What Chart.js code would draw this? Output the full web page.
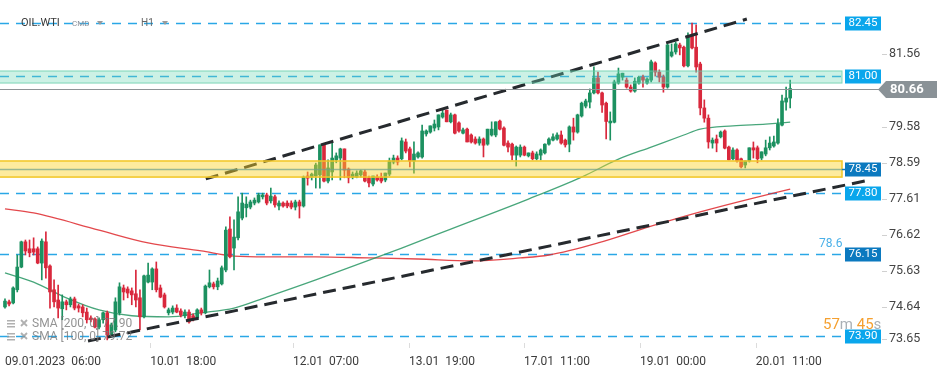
<!DOCTYPE html>
<html>
<head>
<meta charset="utf-8">
<script src="https://cdn.jsdelivr.net/npm/chart.js@4.4.1/dist/chart.umd.min.js"></script>
<style>
  html, body { margin: 0; padding: 0; background: #fff; }
  #wrap { width: 949px; height: 370px; }
</style>
</head>
<body>
<div id="wrap"><canvas id="chart" width="949" height="370"></canvas></div>
<script>
// OIL.WTI H1 candles (one entry per hour bar)
const opens = [74.69,74.83,74.80,75.16,75.78,76.47,76.28,76.28,76.28,75.89,
  76.47,75.81,75.16,74.88,74.64,74.83,74.75,74.91,74.72,74.69,
  74.55,74.39,74.36,74.14,74.34,74.53,73.93,74.06,74.53,75.21,
  75.18,75.13,75.05,74.94,74.42,75.37,75.37,75.73,75.21,75.02,
  74.53,74.55,74.66,74.58,74.45,74.55,74.45,74.39,74.61,74.53,
  75.24,75.32,75.24,75.32,75.70,76.82,76.30,76.58,77.12,77.40,
  77.42,77.53,77.56,77.70,77.75,77.59,77.70,77.45,77.53,77.53,
  77.53,77.42,77.56,77.45,78.27,78.24,78.27,78.30,79.12,78.13,
  78.38,78.71,78.76,79.01,78.46,78.24,78.24,78.30,78.38,78.22,
  78.05,78.24,78.24,78.16,78.32,78.65,78.76,78.74,79.20,79.01,
  78.68,78.79,78.79,79.42,79.47,79.58,79.61,79.88,80.07,79.75,
  79.94,79.72,79.44,79.55,79.39,79.28,79.17,79.28,79.14,79.39,
  79.39,79.77,79.58,79.17,79.14,78.84,78.84,79.06,78.82,78.90,
  78.74,78.84,78.90,79.14,79.25,79.28,79.39,79.25,79.14,79.61,
  79.47,79.91,80.18,80.29,80.54,80.95,80.54,80.26,79.72,79.74,
  80.81,80.97,80.89,80.70,80.59,80.81,80.97,80.81,80.89,81.36,
  81.11,80.97,80.70,81.55,81.66,81.85,81.79,81.28,82.10,81.79,
  81.33,80.13,79.85,79.17,79.28,79.34,79.50,79.06,78.74,78.98,
  78.74,78.57,78.68,79.04,79.04,78.76,78.87,79.04,79.09,79.17,
  79.66,80.29,80.40];
const highs = [74.91,74.88,75.24,76.11,76.49,76.52,76.52,76.58,76.33,76.55,
  76.74,75.84,75.43,75.29,75.02,74.88,74.96,74.96,74.77,74.75,
  74.66,74.45,74.39,74.39,74.55,74.58,74.25,74.94,75.35,75.29,
  75.24,75.21,75.70,75.16,75.56,75.89,75.76,75.92,75.29,75.07,
  74.66,74.72,74.75,74.64,74.61,74.61,74.50,74.64,74.66,75.29,
  75.70,75.37,75.48,75.81,76.88,77.15,77.07,77.70,77.80,77.70,
  77.61,77.67,77.80,77.80,77.80,77.94,77.75,77.59,77.56,77.59,
  77.59,77.61,77.61,78.27,78.38,78.35,78.62,79.12,79.12,78.71,
  79.20,78.90,79.03,79.01,78.49,78.38,78.41,78.43,78.43,78.27,
  78.27,78.30,78.35,78.35,78.76,78.84,78.82,79.31,79.28,79.06,
  79.20,78.93,79.66,79.53,79.64,79.80,79.94,80.07,80.07,79.99,
  79.96,79.75,79.58,79.58,79.42,79.34,79.34,79.31,79.55,79.75,
  79.75,79.80,79.61,79.23,79.17,79.09,79.12,79.09,78.90,78.95,
  78.93,79.01,79.15,79.31,79.42,79.45,79.50,79.28,79.64,79.85,
  79.96,80.29,80.37,80.65,81.25,81.11,80.56,80.29,80.02,80.89,
  81.22,81.08,80.95,80.76,80.95,81.00,81.03,80.95,81.44,81.39,
  81.17,81.03,81.88,81.88,81.93,81.90,81.82,82.18,82.45,82.40,
  81.38,80.35,79.94,79.31,79.39,79.50,79.53,79.09,79.04,79.01,
  78.76,78.68,79.04,79.20,79.09,78.93,79.25,79.34,79.36,79.83,
  80.48,80.70,80.89];
const lows = [74.66,74.72,74.77,75.10,75.76,76.11,76.06,76.11,75.87,75.43,
  75.48,74.66,74.69,74.39,74.34,74.61,74.69,74.61,74.55,74.42,
  74.25,74.28,74.12,74.09,74.25,73.79,73.87,74.01,74.47,74.88,
  74.94,74.75,74.69,74.06,74.39,75.35,75.16,75.10,74.94,74.66,
  74.47,74.50,74.53,74.42,74.39,74.25,74.31,74.34,74.47,74.50,
  75.21,75.18,75.16,75.29,75.65,76.03,75.70,76.52,77.07,77.15,
  77.37,77.48,77.53,77.64,77.48,77.53,77.42,77.34,77.42,77.40,
  77.37,77.34,77.12,77.42,78.02,78.16,77.94,77.94,78.11,78.08,
  78.16,78.63,78.16,78.22,78.08,78.19,78.22,78.24,78.11,77.97,
  78.00,78.13,78.08,78.11,78.27,78.60,78.57,78.71,78.90,78.52,
  78.35,78.76,78.76,79.36,79.44,79.50,79.53,79.85,79.75,79.72,
  79.42,79.47,79.42,79.20,79.17,79.14,79.11,78.79,79.11,79.36,
  79.34,79.53,79.09,78.93,78.71,78.54,78.79,78.82,78.79,78.71,
  78.71,78.71,78.87,79.11,79.23,79.25,79.14,79.06,78.93,79.25,
  79.44,79.88,80.13,80.13,80.51,80.51,80.01,79.28,79.25,79.72,
  80.78,80.89,80.67,80.56,80.56,80.78,80.70,80.78,80.84,81.00,
  80.84,80.56,80.67,81.52,81.60,81.58,81.25,81.25,81.74,81.11,
  79.94,79.74,79.03,79.03,78.93,79.31,79.01,78.71,78.71,78.65,
  78.49,78.49,78.65,78.76,78.63,78.71,78.82,78.98,79.06,79.14,
  79.64,80.07,80.13];
const closes = [74.85,74.77,75.21,75.78,76.47,76.22,76.17,76.19,75.89,76.49,
  75.76,75.10,74.83,74.66,74.83,74.75,74.91,74.66,74.66,74.53,
  74.34,74.34,74.14,74.34,74.53,73.93,74.20,74.83,75.24,75.10,
  75.07,75.02,74.88,74.42,75.54,75.56,75.73,75.16,74.96,74.69,
  74.61,74.66,74.55,74.47,74.55,74.28,74.34,74.61,74.53,75.26,
  75.35,75.24,75.40,75.76,76.79,76.06,76.60,77.29,77.53,77.50,
  77.56,77.61,77.75,77.75,77.53,77.72,77.48,77.53,77.45,77.45,
  77.42,77.56,77.45,78.24,78.21,78.32,78.57,79.12,78.13,78.49,
  78.76,78.82,79.01,78.43,78.22,78.32,78.35,78.41,78.13,78.08,
  78.27,78.16,78.13,78.35,78.68,78.76,78.65,79.23,78.95,78.68,
  78.87,78.90,79.50,79.50,79.64,79.69,79.94,79.99,79.75,79.94,
  79.44,79.50,79.53,79.20,79.20,79.17,79.28,79.11,79.55,79.55,
  79.75,79.55,79.11,79.06,78.84,79.06,79.06,78.84,78.90,78.74,
  78.87,78.98,79.14,79.28,79.34,79.39,79.17,79.12,79.61,79.47,
  79.94,80.26,80.32,80.54,80.95,80.54,80.21,79.76,79.77,80.84,
  81.06,81.08,80.70,80.59,80.86,80.97,80.89,80.92,81.39,81.11,
  80.97,80.70,81.85,81.66,81.88,81.77,81.28,82.10,81.77,81.25,
  80.13,79.85,79.20,79.25,79.17,79.47,79.03,78.71,78.98,78.68,
  78.52,78.68,79.04,78.98,78.74,78.93,79.04,79.17,79.20,79.69,
  80.32,80.40,80.66];

// moving averages, sampled at bar indices
const sma200Idx = [0, 7, 23, 35, 48, 56, 64, 76, 89, 101, 114, 126, 133, 145, 158, 170, 182, 192];
const sma200Val = [77.37, 77.26, 76.79, 76.44, 76.22, 76.08, 76.06, 76.06, 76.03, 76.00, 75.95, 76.03, 76.11, 76.44, 76.90, 77.29, 77.64, 77.91];
const sma100Idx = [0, 7, 15, 23, 31, 40, 48, 56, 64, 76, 97, 109, 128, 141, 150, 158, 166, 170, 178, 186, 192];
const sma100Val = [75.62, 75.37, 74.94, 74.61, 74.45, 74.42, 74.53, 74.66, 74.96, 75.43, 76.30, 76.82, 77.64, 78.24, 78.73, 79.06, 79.39, 79.55, 79.64, 79.69, 79.74];

// channel lines (bar index, price)
const upperTrendIdx = [49.1, 181.4];
const upperTrendVal = [78.19, 82.56];
const lowerTrendIdx = [20.3, 211.5];
const lowerTrendVal = [73.76, 78.16];

// horizontal levels and zones
const levelValues = [82.45, 81.00, 78.45, 77.80, 76.15, 73.90];
const zoneTeal = [80.81, 81.14];
const zoneYellow = [78.24, 78.68];
const lastPrice = 80.66;

// axis ticks
const yTicks = [81.56, 79.58, 78.59, 77.61, 76.62, 75.63, 74.64, 73.65];
const xTickIdx = [0, 35.5, 70.4, 98.8, 126.9, 155.3, 183.6];
const xTickLabels = ['09.01.2023  06:00', '10.01  18:00', '12.01  07:00', '13.01  19:00', '17.01  11:00', '19.01  00:00', '20.01  11:00'];

const GREEN = '#1c9160';
const RED = '#d9283c';
const LEVEL_BLUE = '#2aa7e6';
const levelBoxColor = {'82.45': '#0aa6ec', '81': '#0aa6ec', '78.45': '#0b79bf', '77.8': '#0aa6ec', '76.15': '#0b79bf', '73.9': '#0aa6ec'};
const FONT = 'Roboto, "Open Sans", sans-serif';

const candleColor = ctx => closes[ctx.dataIndex] >= opens[ctx.dataIndex] ? GREEN : RED;

const overlay = {
  id: 'overlay',
  beforeDatasetsDraw(chart) {
    const {ctx, chartArea: a, scales: {y}} = chart;
    ctx.save();
    ctx.setLineDash([9, 7]);
    ctx.lineWidth = 1.5;
    ctx.strokeStyle = LEVEL_BLUE;
    levelValues.forEach(v => {
      if (v === 78.45) return;
      const py = Math.round(y.getPixelForValue(v)) + 0.5;
      ctx.beginPath(); ctx.moveTo(a.left, py); ctx.lineTo(a.right, py); ctx.stroke();
    });
    ctx.restore();
  },
  afterDatasetsDraw(chart) {
    const {ctx, chartArea: a, scales: {y}} = chart;
    ctx.save();
    // zones
    const band = (z, fill, stroke, w) => {
      const t = y.getPixelForValue(z[1]), b = y.getPixelForValue(z[0]);
      ctx.fillStyle = fill;
      ctx.fillRect(a.left, t, 842 - a.left, b - t);
      ctx.strokeStyle = stroke; ctx.lineWidth = w;
      ctx.strokeRect(a.left - 2, t, 844 - a.left, b - t);
    };
    band(zoneTeal, 'rgba(110,215,180,0.35)', 'rgba(100,205,170,0.8)', 1);
    band(zoneYellow, 'rgba(250,210,40,0.45)', '#f2c624', 1.5);
    const my = Math.round(y.getPixelForValue(78.45)) + 0.5;
    ctx.strokeStyle = 'rgba(110,160,140,0.7)'; ctx.lineWidth = 1.5;
    ctx.beginPath(); ctx.moveTo(a.left, my); ctx.lineTo(842, my); ctx.stroke();
    ctx.strokeStyle = '#0b79bf'; ctx.lineWidth = 1.5;
    ctx.beginPath(); ctx.moveTo(842, my); ctx.lineTo(846, my); ctx.stroke();
    // last price line
    const lp = Math.round(y.getPixelForValue(lastPrice)) + 0.5;
    ctx.strokeStyle = '#8e9396'; ctx.lineWidth = 1;
    ctx.beginPath(); ctx.moveTo(a.left, lp); ctx.lineTo(880, lp); ctx.stroke();
    ctx.restore();
  },
  afterDraw(chart) {
    const {ctx, chartArea: a, scales: {x, y}} = chart;
    ctx.save();
    ctx.textBaseline = 'middle';
    // y tick labels
    ctx.font = '12.5px ' + FONT;
    ctx.fillStyle = '#444';
    yTicks.forEach(v => {
      const py = Math.min(y.getPixelForValue(v) - 1.5, 339);
      ctx.strokeStyle = '#d0d0d0'; ctx.lineWidth = 1;
      ctx.beginPath(); ctx.moveTo(882, Math.round(py) + 0.5); ctx.lineTo(887, Math.round(py) + 0.5); ctx.stroke();
      ctx.textAlign = 'left';
      ctx.fillText(v.toFixed(2), 889, py);
    });
    // x tick marks
    ctx.strokeStyle = '#dcdcdc';
    xTickIdx.forEach((v, i) => {
      if (i === 0) return;
      const px = Math.round(x.getPixelForValue(v)) + 0.5;
      ctx.beginPath(); ctx.moveTo(px, a.bottom - 2); ctx.lineTo(px, a.bottom + 3); ctx.stroke();
    });
    // level tags
    ctx.font = '11.5px ' + FONT;
    ctx.textAlign = 'center';
    levelValues.forEach(v => {
      const py = y.getPixelForValue(v);
      ctx.fillStyle = levelBoxColor[String(v)];
      ctx.fillRect(845, Math.round(py) - 6.5, 36, 14);
      ctx.fillStyle = '#fff';
      ctx.fillText(v.toFixed(2), 863, Math.round(py) + 0.5);
    });
    // last price tag
    const lp = Math.round(y.getPixelForValue(lastPrice)) + 0.5;
    ctx.fillStyle = '#8a9297';
    ctx.beginPath();
    ctx.moveTo(878, lp); ctx.lineTo(886, lp - 8.5); ctx.lineTo(937, lp - 8.5);
    ctx.lineTo(937, lp + 8.5); ctx.lineTo(886, lp + 8.5); ctx.closePath(); ctx.fill();
    ctx.fillStyle = '#fff';
    ctx.font = 'bold 13px ' + FONT;
    ctx.textAlign = 'left';
    ctx.fillText(lastPrice.toFixed(2), 890, lp + 0.5);
    // 78.6 note
    ctx.font = '12px ' + FONT;
    ctx.fillStyle = '#4ab0e8';
    ctx.fillText('78.6', 819, 244);
    // countdown
    ctx.font = '15px ' + FONT;
    let tx = 823;
    [['57', '#f5a030'], ['m', '#aab0b6'], [' 45', '#f5a030'], ['s', '#aab0b6']].forEach(([t, c]) => {
      ctx.fillStyle = c; ctx.fillText(t, tx, 325); tx += ctx.measureText(t).width;
    });
    // header
    ctx.fillStyle = '#3a3a3a';
    ctx.font = '11px ' + FONT;
    ctx.fillText('OIL.WTI', 21, 23);
    ctx.fillStyle = '#8a8f99';
    ctx.font = '8px ' + FONT;
    ctx.fillText('CMD', 72, 24);
    ctx.font = '10px ' + FONT;
    ctx.fillStyle = '#666';
    ctx.fillText('H1', 141, 23);
    ctx.fillStyle = '#9a9a9a';
    [97, 162].forEach(px => {
      ctx.beginPath(); ctx.moveTo(px, 21); ctx.lineTo(px + 6, 21); ctx.lineTo(px + 3, 25); ctx.closePath(); ctx.fill();
    });
    // SMA legend
    [['SMA [200, 0] 77.90', 324], ['SMA [100, 0] 79.72', 337]].forEach(([t, py]) => {
      ctx.fillStyle = 'rgba(150,150,150,0.75)';
      ctx.fillRect(7, py - 4, 8, 1.5); ctx.fillRect(7, py - 1, 8, 1.5); ctx.fillRect(7, py + 2, 8, 1.5);
      ctx.strokeStyle = 'rgba(150,150,150,0.75)'; ctx.lineWidth = 1.8;
      ctx.beginPath(); ctx.moveTo(21, py - 4); ctx.lineTo(27, py + 2); ctx.moveTo(27, py - 4); ctx.lineTo(21, py + 2); ctx.stroke();
      ctx.fillStyle = 'rgba(120,120,120,0.8)';
      ctx.font = '12px ' + FONT;
      ctx.fillText(t, 32, py);
    });
    ctx.restore();
  }
};

const idx = opens.map((_, i) => i);

new Chart(document.getElementById('chart'), {
  type: 'bar',
  data: {
    datasets: [
      {
        type: 'line', label: 'upper', order: 0,
        data: upperTrendIdx.map((v, i) => ({x: v, y: upperTrendVal[i]})),
        borderColor: '#262a2e', borderWidth: 3, borderDash: [13, 7], pointRadius: 0
      },
      {
        type: 'line', label: 'lower', order: 0, clip: false,
        data: lowerTrendIdx.map((v, i) => ({x: v, y: lowerTrendVal[i]})),
        borderColor: '#262a2e', borderWidth: 3, borderDash: [13, 7], pointRadius: 0
      },
      {
        label: 'bodies', order: 1, grouped: false,
        data: idx.map(i => ({x: i, y: [opens[i], closes[i]]})),
        backgroundColor: candleColor, barThickness: 3, minBarLength: 1, borderWidth: 0
      },
      {
        label: 'wicks', order: 2, grouped: false,
        data: idx.map(i => ({x: i, y: [lows[i], highs[i]]})),
        backgroundColor: candleColor, barThickness: 1, minBarLength: 1, borderWidth: 0
      },
      {
        type: 'line', label: 'SMA 100', order: 3,
        data: sma100Idx.map((v, i) => ({x: v, y: sma100Val[i]})),
        borderColor: 'rgba(40,150,100,0.85)', borderWidth: 1.3, pointRadius: 0, cubicInterpolationMode: 'monotone'
      },
      {
        type: 'line', label: 'SMA 200', order: 3,
        data: sma200Idx.map((v, i) => ({x: v, y: sma200Val[i]})),
        borderColor: 'rgba(222,40,45,0.85)', borderWidth: 1.3, pointRadius: 0, cubicInterpolationMode: 'monotone'
      }
    ]
  },
  options: {
    responsive: false,
    animation: false,
    events: [],
    layout: { padding: 0 },
    plugins: { legend: { display: false }, tooltip: { enabled: false } },
    scales: {
      x: {
        type: 'linear', min: -1.22, max: 205.4, offset: false,
        grid: { display: false }, border: { display: false },
        afterBuildTicks: s => { s.ticks = xTickIdx.map(v => ({value: v})); },
        afterFit: s => { s.height = 25; },
        ticks: {
          autoSkip: false, maxRotation: 0, minRotation: 0, align: 'start', padding: 2,
          color: '#3c3c3c', font: { family: FONT, size: 12 },
          callback: (v, i) => xTickLabels[i]
        }
      },
      y: {
        position: 'right', min: 73.65, max: 83.08,
        grid: { display: false }, border: { display: false },
        ticks: { display: false },
        afterFit: s => { s.width = 104; }
      }
    }
  },
  plugins: [overlay]
});
</script>
</body>
</html>
